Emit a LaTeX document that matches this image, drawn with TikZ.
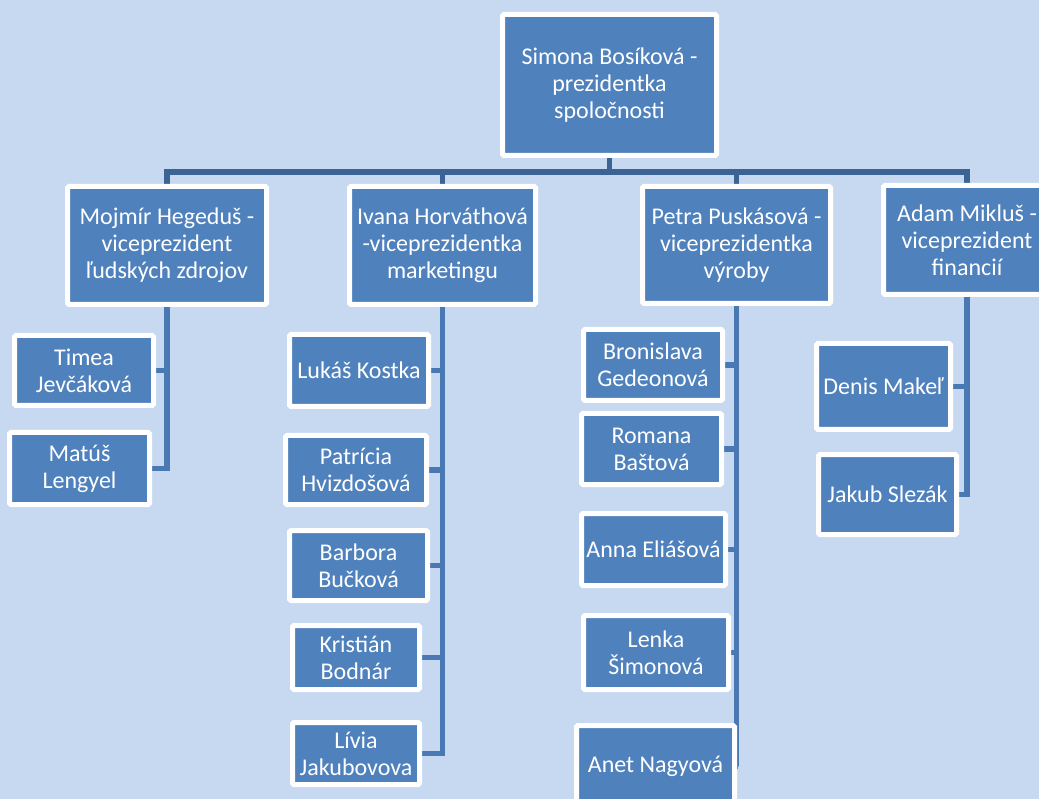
\documentclass[tikz,border=0pt]{standalone}
\usepackage{fontspec}
\setmainfont{Carlito}
\pgfdeclarelayer{back}
\pgfdeclarelayer{bg}
\pgfsetlayers{back,bg,main}
\definecolor{bgblue}{HTML}{C6D9F1}
\definecolor{boxblue}{HTML}{4F81BD}
\definecolor{topline}{HTML}{3B6494}
\definecolor{subline}{HTML}{4A78B2}
\tikzset{
  box/.style={rectangle, fill=boxblue, draw=white, line width=5pt, rounded corners=1.5pt,
    text=white, align=center, inner sep=0pt, font=\fontsize{24}{27}\selectfont},
  topconn/.style={draw=topline, line width=5.8pt},
  subconn/.style={draw=subline, line width=5.8pt}
}
\newcommand\obox[6]{\node[box, minimum width=#4pt, minimum height=#5pt] (#1) at (#2,#3) {#6};}
\begin{document}
\begin{tikzpicture}[x=1pt,y=-1pt]
\begin{pgfonlayer}{back}
\fill[bgblue] (0,0) rectangle (1039,799);
\end{pgfonlayer}
\useasboundingbox (0,0) rectangle (1039,799);
% top
\obox{top}{609.5}{85}{214}{141}{Simona Bosíková -\\prezidentka\\spoločnosti}
% VPs
\obox{m}{167}{245.5}{199}{118}{Mojmír Hegeduš -\\viceprezident\\ľudských zdrojov}
\obox{i}{442.5}{245.5}{186}{118}{Ivana Horváthová\\-viceprezidentka\\marketingu}
\obox{p}{736.5}{245}{188}{117}{Petra Puskásová -\\viceprezidentka\\výroby}
\obox{a}{967}{240}{167}{109}{Adam Mikluš -\\viceprezident\\financií}
% Mojmír's team
\obox{timea}{84}{370.5}{139}{70}{Timea\\Jevčáková}
\obox{matus}{79.5}{468.5}{140}{72}{Matúš\\Lengyel}
% Ivana's team
\obox{lukas}{359}{370.5}{139}{72}{Lukáš Kostka}
\obox{patricia}{356}{470}{141}{69}{Patrícia\\Hvizdošová}
\obox{barbora}{358.5}{565.5}{138}{70}{Barbora\\Bučková}
\obox{kristian}{356}{657.5}{127}{64}{Kristián\\Bodnár}
\obox{livia}{356}{753.5}{127}{62}{Lívia\\Jakubovova}
% Petra's team
\obox{bronislava}{653}{365}{139}{71}{Bronislava\\Gedeonová}
\obox{romana}{651.5}{449}{140}{71}{Romana\\Baštová}
\obox{anna}{653.5}{549.5}{144}{72}{Anna Eliášová}
\obox{lenka}{656}{652.5}{145}{74}{Lenka\\Šimonová}
\obox{anet}{655.5}{766.5}{158}{82}{Anet Nagyová}
% Adam's team
\obox{denis}{883.5}{386.5}{134}{86}{Denis Makeľ}
\obox{jakub}{887.5}{494.5}{138}{80}{Jakub Slezák}

\begin{pgfonlayer}{bg}
\coordinate (bus) at (609.5,172);
\draw[topconn] (top.south) -- (top.south |- bus);
\draw[topconn] (m.north) |- (bus) -| (a.north);
\draw[topconn] (i.north) -- (i.north |- bus);
\draw[topconn] (p.north) -- (p.north |- bus);
% subtrees
\draw[subconn] (m.south) |- (matus.east);
\draw[subconn] (m.south |- timea.east) -- (timea.east);
\draw[subconn] (i.south) |- (livia.east);
\foreach \c in {lukas,patricia,barbora,kristian}
  \draw[subconn] (i.south |- \c.east) -- (\c.east);
\draw[subconn] (p.south) |- (anet.east);
\foreach \c in {bronislava,romana,anna,lenka}
  \draw[subconn] (p.south |- \c.east) -- (\c.east);
\draw[subconn] (a.south) |- (jakub.east);
\draw[subconn] (a.south |- denis.east) -- (denis.east);
\end{pgfonlayer}
\end{tikzpicture}
\end{document}
